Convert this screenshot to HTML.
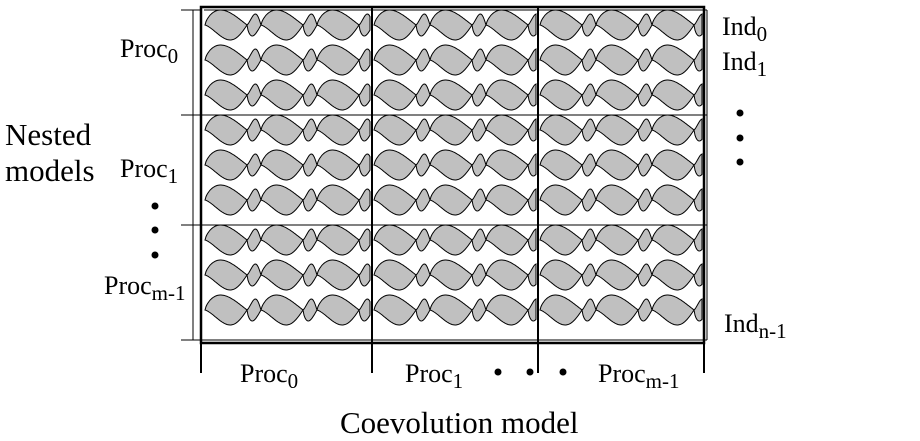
<!DOCTYPE html>
<html><head><style>body{margin:0;background:#fff}svg{display:block}</style></head>
<body>
<svg id="s" width="920" height="441" xmlns="http://www.w3.org/2000/svg" font-family="Liberation Serif, serif" fill="#000">
<rect x="0" y="0" width="920" height="441" fill="#fff"/>
<g id="waves"></g>
<g stroke="#000" fill="none">
<rect x="201" y="7" width="503" height="336" stroke-width="2.5"/>
<line x1="204" y1="10" x2="707" y2="10" stroke-width="1"/>
<line x1="707" y1="10" x2="707" y2="340" stroke-width="1"/>
<line x1="181" y1="340" x2="707" y2="340" stroke-width="1"/>
<line x1="193" y1="10" x2="193" y2="340" stroke-width="1"/>
<line x1="181" y1="10" x2="201" y2="10" stroke-width="1"/>
<line x1="181" y1="115" x2="707" y2="115" stroke-width="1"/>
<line x1="181" y1="225" x2="707" y2="225" stroke-width="1"/>
<line x1="201" y1="343" x2="201" y2="373" stroke-width="2"/>
<line x1="372" y1="7" x2="372" y2="373" stroke-width="2"/>
<line x1="538" y1="7" x2="538" y2="373" stroke-width="2"/>
<line x1="704" y1="343" x2="704" y2="373" stroke-width="2"/>
</g>
<g font-size="26">
<text x="120" y="57">Proc<tspan font-size="21" dy="6">0</tspan></text>
<text x="120" y="177">Proc<tspan font-size="21" dy="6">1</tspan></text>
<text x="104" y="294">Proc<tspan font-size="21" dy="6">m-1</tspan></text>
<text x="722" y="35">Ind<tspan font-size="21" dy="6">0</tspan></text>
<text x="722" y="70">Ind<tspan font-size="21" dy="6">1</tspan></text>
<text x="724" y="332">Ind<tspan font-size="21" dy="6">n-1</tspan></text>
<text x="240" y="382">Proc<tspan font-size="21" dy="6">0</tspan></text>
<text x="405" y="382">Proc<tspan font-size="21" dy="6">1</tspan></text>
<text x="598" y="382">Proc<tspan font-size="21" dy="6">m-1</tspan></text>
</g>
<g font-size="31">
<text x="5" y="145">Nested</text>
<text x="5" y="181">models</text>
<text x="340" y="433">Coevolution model</text>
</g>
<g>
<circle cx="155" cy="206" r="3.5"/><circle cx="155" cy="230" r="3.5"/><circle cx="155" cy="255" r="3.5"/>
<circle cx="740" cy="113" r="3.5"/><circle cx="740" cy="138" r="3.5"/><circle cx="740" cy="162" r="3.5"/>
<circle cx="498" cy="372" r="3.5"/><circle cx="530" cy="372" r="3.5"/><circle cx="563" cy="372" r="3.5"/>
</g>
</svg>
<script>
var g=document.getElementById('waves'),NS='http://www.w3.org/2000/svg';
var rows=[25,60,95,130,165,200,240,275,310];
var cols=[[205,370],[374,536],[540,702]];
rows.forEach(function(c){cols.forEach(function(cr){
 var up=[],lo=[],x=cr[0],i=0,w=[42,14],a=[15,11],sg=[1,-1];
 while(x<cr[1]){var k=i%2,ww=Math.min(w[k],cr[1]-x);
  for(var t=0;t<=ww;t+=1){var u=t/w[k];
   var p1=Math.sin(Math.PI*Math.pow(u,0.7)),p2=Math.sin(Math.PI*Math.pow(u,1.35));
   up.push([x+t,c-sg[k]*a[k]*p1]);lo.push([x+t,c+sg[k]*a[k]*p2]);}
  x+=ww;i++;}
 var f=function(p){return p[0]+','+p[1].toFixed(1)};
 var d='M'+up.map(f).join('L')+'L'+lo.reverse().map(f).join('L')+'Z';
 var p=document.createElementNS(NS,'path');
 p.setAttribute('d',d);
 p.setAttribute('fill','#c0c0c0');p.setAttribute('stroke','#000');p.setAttribute('stroke-width','1');
 g.appendChild(p);
});});
</script>
</body></html>
